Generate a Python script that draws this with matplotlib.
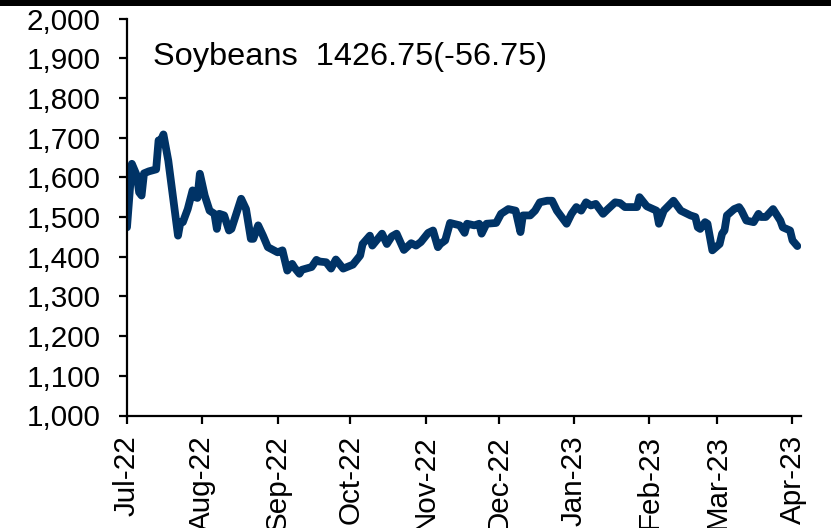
import matplotlib
matplotlib.use("Agg")
import matplotlib.pyplot as plt
import matplotlib.dates as mdates
from matplotlib.patches import Rectangle
from matplotlib.ticker import FuncFormatter
import pandas as pd

plt.rcParams['font.family'] = ['Liberation Sans', 'DejaVu Sans']

dates = [
    "2022-07-01", "2022-07-03", "2022-07-05", "2022-07-06", "2022-07-07", "2022-07-08",
    "2022-07-10", "2022-07-13", "2022-07-14", "2022-07-15", "2022-07-16", "2022-07-18",
    "2022-07-22", "2022-07-23", "2022-07-24", "2022-07-26", "2022-07-28", "2022-07-29",
    "2022-07-30", "2022-07-31", "2022-08-02", "2022-08-04", "2022-08-06", "2022-08-07",
    "2022-08-08", "2022-08-10", "2022-08-12", "2022-08-13", "2022-08-17", "2022-08-19",
    "2022-08-21", "2022-08-22", "2022-08-24", "2022-08-26", "2022-08-28", "2022-09-01",
    "2022-09-03", "2022-09-05", "2022-09-07", "2022-09-08", "2022-09-10", "2022-09-11",
    "2022-09-15", "2022-09-17", "2022-09-18", "2022-09-21", "2022-09-23", "2022-09-25",
    "2022-09-28", "2022-10-02", "2022-10-05", "2022-10-06", "2022-10-09", "2022-10-10",
    "2022-10-14", "2022-10-16", "2022-10-18", "2022-10-20", "2022-10-23", "2022-10-26",
    "2022-10-28", "2022-10-30", "2022-11-02", "2022-11-04", "2022-11-06", "2022-11-07",
    "2022-11-09", "2022-11-11", "2022-11-15", "2022-11-17", "2022-11-18", "2022-11-21",
    "2022-11-23", "2022-11-24", "2022-11-26", "2022-11-30", "2022-12-02", "2022-12-05",
    "2022-12-08", "2022-12-10", "2022-12-11", "2022-12-14", "2022-12-16", "2022-12-18",
    "2022-12-21", "2022-12-23", "2022-12-25", "2022-12-29", "2022-12-31", "2023-01-02",
    "2023-01-04", "2023-01-06", "2023-01-08", "2023-01-10", "2023-01-13", "2023-01-15",
    "2023-01-18", "2023-01-20", "2023-01-22", "2023-01-27", "2023-01-28", "2023-01-31",
    "2023-02-04", "2023-02-05", "2023-02-07", "2023-02-11", "2023-02-14", "2023-02-18",
    "2023-02-20", "2023-02-21", "2023-02-22", "2023-02-24", "2023-02-25", "2023-02-27",
    "2023-03-02", "2023-03-03", "2023-03-04", "2023-03-05", "2023-03-08", "2023-03-10",
    "2023-03-11", "2023-03-13", "2023-03-16", "2023-03-18", "2023-03-19", "2023-03-21",
    "2023-03-24", "2023-03-27", "2023-03-28", "2023-03-31", "2023-04-01", "2023-04-03",
]
prices = [
    1474, 1634, 1605, 1562, 1554, 1610,
    1615, 1620, 1693, 1694, 1708, 1642,
    1453, 1487, 1487, 1520, 1567, 1550,
    1548, 1609, 1554, 1516, 1508, 1470,
    1508, 1504, 1466, 1470, 1546, 1520,
    1445, 1445, 1479, 1453, 1424, 1411,
    1416, 1365, 1382, 1372, 1357, 1367,
    1374, 1392, 1388, 1386, 1370, 1393,
    1370, 1380, 1403, 1432, 1453, 1428,
    1458, 1432, 1451, 1458, 1417, 1434,
    1428, 1437, 1460, 1466, 1424, 1432,
    1441, 1485, 1479, 1460, 1483, 1479,
    1483, 1458, 1483, 1485, 1508, 1520,
    1516, 1462, 1504, 1504, 1516, 1537,
    1541, 1541, 1516, 1483, 1508, 1525,
    1516, 1537, 1529, 1533, 1508, 1520,
    1537, 1535, 1525, 1525, 1550, 1527,
    1516, 1483, 1516, 1541, 1516, 1504,
    1500, 1474, 1470, 1487, 1483, 1416,
    1432, 1458, 1466, 1504, 1520, 1525,
    1516, 1491, 1487, 1508, 1500, 1500,
    1520, 1491, 1474, 1466, 1441, 1426.75,
]
title_text = "Soybeans  1426.75(-56.75)"
y_ticks = [1000, 1100, 1200, 1300, 1400, 1500, 1600, 1700, 1800, 1900, 2000]

x = pd.to_datetime(dates)

fig = plt.figure(figsize=(8.31, 5.28), dpi=100)
ax = fig.add_axes([127/831, 1-415.5/528, (801-127)/831, (415.5-18.5)/528])

ax.plot(x, prices, color='#003366', lw=5.6, solid_joinstyle='round', solid_capstyle='round')

ax.set_ylim(1000, 2000)
ax.set_yticks(y_ticks)
ax.yaxis.set_major_formatter(FuncFormatter(lambda v, p: f"{int(v):,}"))
ax.set_xlim(pd.Timestamp("2022-07-01"), pd.Timestamp("2023-04-04 12:00"))
ax.xaxis.set_major_locator(mdates.MonthLocator())
ax.xaxis.set_major_formatter(mdates.DateFormatter("%b-%y"))

for s in ['top', 'right']:
    ax.spines[s].set_visible(False)
for s in ['left', 'bottom']:
    ax.spines[s].set_linewidth(1.6)
    ax.spines[s].set_color('black')

ax.tick_params(axis='both', direction='out', length=6, width=1.6, labelsize=21.3, color='black')
ax.tick_params(axis='y', pad=13)
ax.tick_params(axis='x', pad=8)
for lab in ax.get_xticklabels():
    lab.set_rotation(90)

fig.text(153/831, 1-65/528, title_text, fontsize=23.4, va='baseline', ha='left')

fig.patches.append(Rectangle((0, 1-6/528), 1, 6/528, transform=fig.transFigure,
                             facecolor='black', edgecolor='none', zorder=10))

fig.savefig("out.png", dpi=100)
